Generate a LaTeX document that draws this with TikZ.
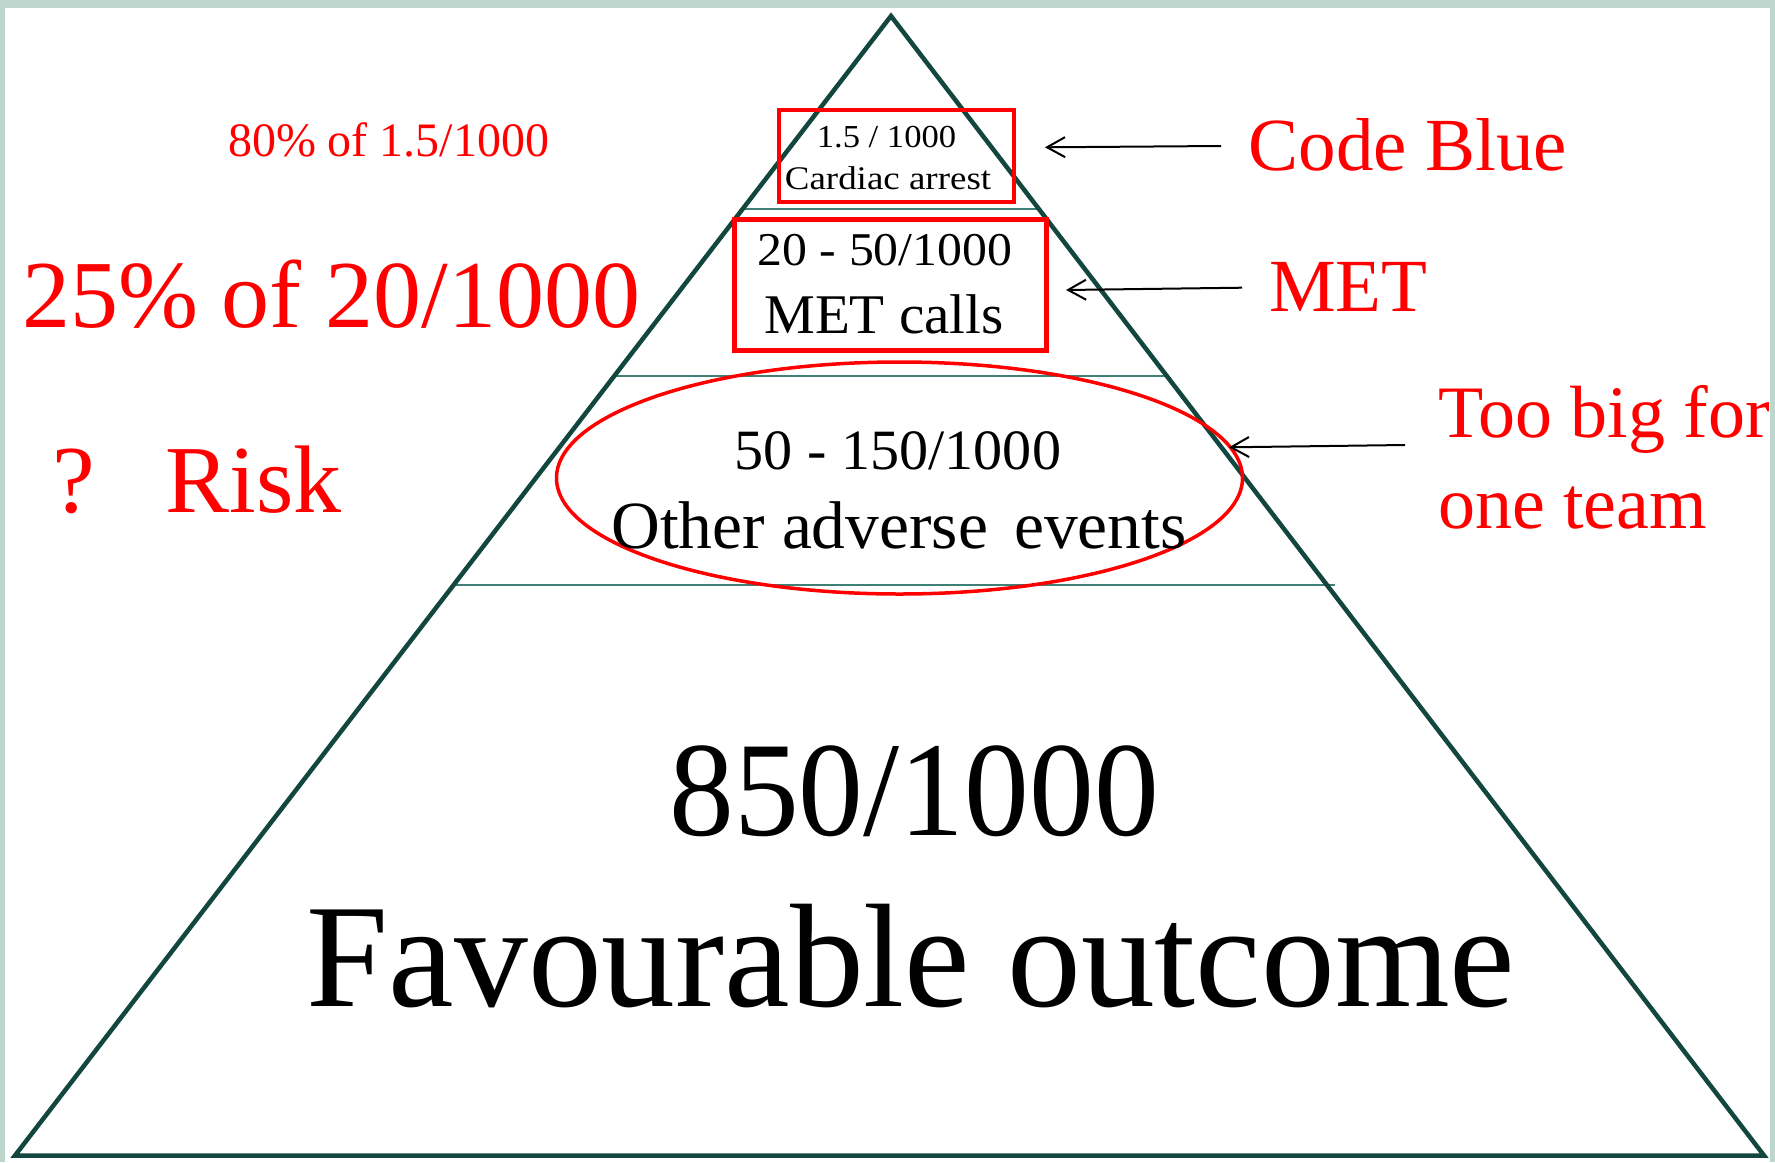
\documentclass[tikz,border=0pt]{standalone}
\usepackage{graphicx}
\usepackage{fontspec}
\setmainfont{Liberation Serif}
\usetikzlibrary{shapes.geometric,arrows.meta}
\definecolor{framecol}{RGB}{190,215,206}
\definecolor{tricol}{RGB}{18,70,62}
\definecolor{bandcol}{RGB}{62,128,118}
\definecolor{pred}{RGB}{255,0,0}
\newcommand{\fsz}[1]{\fontsize{#1}{#1}\selectfont}
\begin{document}
\begin{tikzpicture}[x=1pt,y=-1pt,
  txt/.style={inner sep=0pt,outer sep=0pt,anchor=base},
  redtxt/.style={inner sep=0pt,outer sep=0pt,anchor=base west,text=pred},
  redbox/.style={draw=pred,inner sep=0pt,rectangle},
  arr/.style={draw=black,line width=2pt,-{Straight Barb[length=18pt,width=20pt]}},
  band/.style={draw=bandcol,line width=2.5pt},
  tri/.style={draw=tricol,line width=4.5pt,line join=miter}]
\useasboundingbox (0,0) rectangle (1775,1162);
\fill[white] (0,0) rectangle (1775,1162);
% bands
\draw[band] (742,209) -- (1038,209);
\draw[band] (612,376) -- (1168,376);
\draw[band] (453,585) -- (1335,585);
% pyramid
\draw[tri] (15,1155.5) -- (891,16) -- (1764,1155.5) -- cycle;
% boxes
\node[redbox,line width=4.5pt,minimum width=235pt,minimum height=92pt] (box1) at (896.5,156) {};
\node[redbox,line width=5pt,minimum width=312pt,minimum height=131pt] (box2) at (890,284.5) {};
\node[draw=pred,ellipse,line width=3.5pt,minimum width=686pt,minimum height=232pt,inner sep=0pt] (ell) at (899.5,478) {};
% texts inside
\node[txt] (t1a) at (886.5,147.7) {\fsz{32}\scalebox{1.08}[1]{1.5 / 1000}};
\node[txt] (t1b) at (888,189) {\fsz{33}\scalebox{1.12}[1]{Cardiac arrest}};
\node[txt] (t2a) at (885,265) {\fsz{47}\scalebox{1.06}[1]{20 - 50/1000}};
\node[txt] (t2b) at (884,333) {\fsz{56}\scalebox{1.02}[1]{MET calls}};
\node[txt] (t3a) at (898,469.3) {\fsz{57}\scalebox{1.02}[1]{50 - 150/1000}};
\node[txt] (t3b) at (899,548) {\fsz{67.5}Other adverse\hspace{26pt}events};
\node[txt] (t4a) at (914,835) {\fsz{135}\scalebox{0.96}[1]{850/1000}};
\node[txt] (t4b) at (911,1006.7) {\fsz{147.5}Favourable outcome};
% left labels
\node[redtxt] (l1) at (228,156.7) {\fsz{48}80\% of 1.5/1000};
\node[redtxt] (l2) at (22,327) {\fsz{96}25\% of 20/1000};
\node[redtxt] (l3) at (52,512) {\fsz{96}?\hspace{71pt}Risk};
% right labels
\node[redtxt] (r1) at (1248.5,170) {\fsz{75}Code Blue};
\node[redtxt] (r2) at (1269,311.7) {\fsz{75}MET};
\node[redtxt] (r3a) at (1438,437.5) {\fsz{74}Too big for};
\node[redtxt] (r3b) at (1438,528) {\fsz{74}one team};
% arrows
\coordinate (a1t) at (1221,146);
\coordinate (a1h) at (1045,147.3);
\coordinate (a2t) at (1242,287.7);
\coordinate (a2h) at (1066,290);
\coordinate (a3t) at (1405,445);
\coordinate (a3h) at (1229,447.3);
\draw[arr] (a1t) -- (a1h);
\draw[arr] (a2t) -- (a2h);
\draw[arr] (a3t) -- (a3h);
% frame
\fill[framecol] (0,0) rectangle (1775,7.5);
\fill[framecol] (0,0) rectangle (5,1162);
\fill[framecol] (1770,0) rectangle (1775,1162);
\end{tikzpicture}
\end{document}
